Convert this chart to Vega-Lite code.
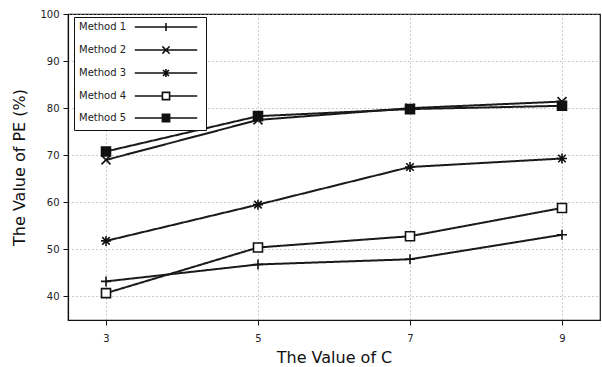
{
  "$schema": "https://vega.github.io/schema/vega-lite/v6.json",
  "width": 532,
  "height": 306,
  "autosize": "none",
  "padding": {"left": 68, "top": 14, "right": 2, "bottom": 47},
  "background": "white",
  "config": {
    "font": "DejaVu Sans",
    "view": {"stroke": "#111", "strokeWidth": 1.2},
    "axis": {
      "grid": true,
      "gridColor": "#999",
      "gridDash": [1, 3],
      "gridWidth": 1,
      "domainColor": "#111",
      "domainWidth": 1.2,
      "tickColor": "#111",
      "labelFont": "DejaVu Sans",
      "labelFontSize": 10,
      "labelColor": "#222",
      "titleFont": "DejaVu Sans",
      "titleFontSize": 16,
      "titleFontWeight": "normal",
      "titleColor": "#111"
    },
    "legend": {
      "orient": "none",
      "legendX": 6,
      "legendY": 3,
      "padding": 5,
      "strokeColor": "#111",
      "fillColor": "white",
      "labelFont": "DejaVu Sans",
      "labelFontSize": 10,
      "labelColor": "#222",
      "symbolSize": 64,
      "symbolStrokeWidth": 1.6,
      "symbolStrokeColor": "#111",
      "symbolOffset": 82,
      "labelOffset": -92,
      "rowPadding": 8
    }
  },
  "data": {
    "values": [
      {"C": 3, "PE": 43.2, "Method": "Method 1"},
      {"C": 5, "PE": 46.8, "Method": "Method 1"},
      {"C": 7, "PE": 47.9, "Method": "Method 1"},
      {"C": 9, "PE": 53.1, "Method": "Method 1"},
      {"C": 3, "PE": 69.0, "Method": "Method 2"},
      {"C": 5, "PE": 77.5, "Method": "Method 2"},
      {"C": 7, "PE": 80.0, "Method": "Method 2"},
      {"C": 9, "PE": 81.4, "Method": "Method 2"},
      {"C": 3, "PE": 51.8, "Method": "Method 3"},
      {"C": 5, "PE": 59.5, "Method": "Method 3"},
      {"C": 7, "PE": 67.5, "Method": "Method 3"},
      {"C": 9, "PE": 69.3, "Method": "Method 3"},
      {"C": 3, "PE": 40.7, "Method": "Method 4"},
      {"C": 5, "PE": 50.4, "Method": "Method 4"},
      {"C": 7, "PE": 52.8, "Method": "Method 4"},
      {"C": 9, "PE": 58.8, "Method": "Method 4"},
      {"C": 3, "PE": 70.8, "Method": "Method 5"},
      {"C": 5, "PE": 78.3, "Method": "Method 5"},
      {"C": 7, "PE": 79.8, "Method": "Method 5"},
      {"C": 9, "PE": 80.5, "Method": "Method 5"}
    ]
  },
  "encoding": {
    "x": {
      "field": "C",
      "type": "quantitative",
      "scale": {"domain": [2.5, 9.5], "nice": false, "zero": false},
      "axis": {"values": [3, 5, 7, 9], "title": "The Value of C", "labelPadding": 8, "titlePadding": 6, "tickSize": 5}
    },
    "y": {
      "field": "PE",
      "type": "quantitative",
      "scale": {"domain": [35, 100], "nice": false, "zero": false},
      "axis": {"values": [40, 50, 60, 70, 80, 90, 100], "title": "The Value of PE (%)", "labelPadding": 4, "titlePadding": 12, "tickSize": 5}
    }
  },
  "layer": [
    {
      "mark": {"type": "line", "color": "#1a1a1a", "strokeWidth": 2},
      "encoding": {
        "strokeDash": {
          "field": "Method",
          "type": "nominal",
          "scale": {
            "domain": ["Method 1", "Method 2", "Method 3", "Method 4", "Method 5"],
            "range": [[1, 0], [1, 0], [1, 0], [1, 0], [1, 0]]
          },
          "legend": {"title": null}
        }
      }
    },
    {
      "transform": [{"filter": "datum.Method === 'Method 1'"}],
      "mark": {"type": "point", "filled": true, "fill": "white", "stroke": "#111", "strokeWidth": 1.6, "opacity": 1, "size": 100, "shape": "M-1,0H1M0,-1V1"}
    },
    {
      "transform": [{"filter": "datum.Method === 'Method 2'"}],
      "mark": {"type": "point", "filled": true, "fill": "white", "stroke": "#111", "strokeWidth": 1.6, "opacity": 1, "size": 100, "shape": "M-0.9,-0.9L0.9,0.9M-0.9,0.9L0.9,-0.9"}
    },
    {
      "transform": [{"filter": "datum.Method === 'Method 3'"}],
      "mark": {"type": "point", "filled": true, "fill": "white", "stroke": "#111", "strokeWidth": 1.6, "opacity": 1, "size": 100, "shape": "M-1,0H1M0,-1V1M-0.75,-0.75L0.75,0.75M-0.75,0.75L0.75,-0.75"}
    },
    {
      "transform": [{"filter": "datum.Method === 'Method 4'"}],
      "mark": {"type": "point", "filled": true, "fill": "white", "stroke": "#111", "strokeWidth": 1.6, "opacity": 1, "size": 100, "shape": "M-0.9,-0.9H0.9V0.9H-0.9Z"}
    },
    {
      "transform": [{"filter": "datum.Method === 'Method 5'"}],
      "mark": {"type": "point", "filled": true, "fill": "#111", "stroke": "#111", "strokeWidth": 1.6, "opacity": 1, "size": 100, "shape": "M-0.9,-0.9H0.9V0.9H-0.9Z"}
    },
    {
      "transform": [{"filter": "datum.PE < 0"}],
      "mark": {"type": "point", "filled": true, "stroke": "#111", "strokeWidth": 1.6, "opacity": 1, "size": 64},
      "encoding": {
        "shape": {
          "field": "Method",
          "type": "nominal",
          "scale": {
            "domain": ["Method 1", "Method 2", "Method 3", "Method 4", "Method 5"],
            "range": [
              "M-1,0H1M0,-1V1M-7.8,0H7.8",
              "M-0.9,-0.9L0.9,0.9M-0.9,0.9L0.9,-0.9M-7.8,0H7.8",
              "M-1,0H1M0,-1V1M-0.75,-0.75L0.75,0.75M-0.75,0.75L0.75,-0.75M-7.8,0H7.8",
              "M-0.9,-0.9H0.9V0.9H-0.9ZM-7.8,0H-0.9M0.9,0H7.8",
              "M-0.9,-0.9H0.9V0.9H-0.9ZM-7.8,0H7.8"
            ]
          },
          "legend": null
        },
        "fill": {
          "field": "Method",
          "type": "nominal",
          "scale": {
            "domain": ["Method 1", "Method 2", "Method 3", "Method 4", "Method 5"],
            "range": ["white", "white", "white", "white", "#111"]
          },
          "legend": null
        }
      }
    }
  ]
}
